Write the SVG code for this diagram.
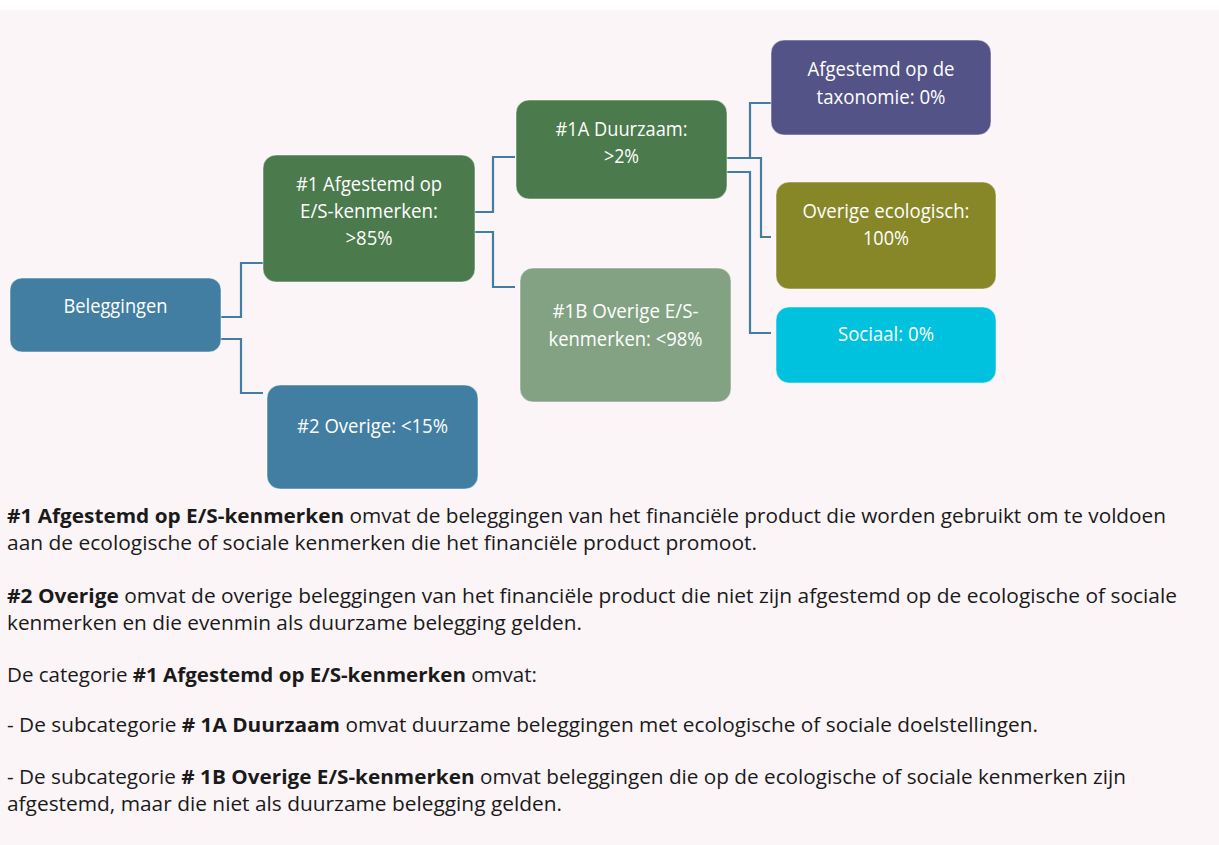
<svg xmlns="http://www.w3.org/2000/svg" width="1219" height="845" viewBox="0 0 1219 845">
<style>
.node rect{stroke:#ffffff;stroke-opacity:0.5;stroke-width:1}
.nt{font-family:"Open Sans","Noto Sans","Liberation Sans",sans-serif;font-size:20px;fill:#ffffff;text-anchor:middle}
.bt{font-family:"Open Sans","Noto Sans","Liberation Sans",sans-serif;font-size:20px;fill:#1a1a1a}
.b{font-weight:bold}
#connectors path{fill:none;stroke:#417ea1;stroke-width:2.2}
</style>
<rect x="0" y="0" width="1219" height="845" fill="#ffffff"/>
<rect x="0" y="10" width="1219" height="835" fill="#fbf5f8"/>

<g id="connectors">
  <path d="M221,317 H241 V263 H263"/>
  <path d="M221,339 H241 V393 H263"/>
  <path d="M475,212 H493 V157 H515"/>
  <path d="M475,232 H493 V287 H515"/>
  <path d="M727,158 H750 V103 H771"/>
  <path d="M727,158 H761 V237 H771"/>
  <path d="M727,172 H750 V333 H771"/>
</g>

<g id="beleggingen" class="node">
  <rect x="10" y="278" width="211" height="74" rx="12" fill="#417ea1"/>
  <text class="nt" x="115.5" y="313" textLength="104" lengthAdjust="spacingAndGlyphs">Beleggingen</text>
</g>
<g id="n1" class="node">
  <rect x="263" y="155" width="212" height="127" rx="13" fill="#4b7a4c"/>
  <text class="nt" x="369" y="191" textLength="146" lengthAdjust="spacingAndGlyphs">#1 Afgestemd op</text>
  <text class="nt" x="369" y="218" textLength="138" lengthAdjust="spacingAndGlyphs">E/S-kenmerken:</text>
  <text class="nt" x="369" y="245" textLength="47" lengthAdjust="spacingAndGlyphs">&gt;85%</text>
</g>
<g id="n2" class="node">
  <rect x="267" y="385" width="211" height="104" rx="13" fill="#417ea1"/>
  <text class="nt" x="372.5" y="433" textLength="151" lengthAdjust="spacingAndGlyphs">#2 Overige: &lt;15%</text>
</g>
<g id="n1a" class="node">
  <rect x="516" y="100" width="211" height="99" rx="13" fill="#4b7a4c"/>
  <text class="nt" x="621.5" y="136" textLength="132" lengthAdjust="spacingAndGlyphs">#1A Duurzaam:</text>
  <text class="nt" x="621.5" y="163" textLength="35" lengthAdjust="spacingAndGlyphs">&gt;2%</text>
</g>
<g id="n1b" class="node">
  <rect x="520" y="268" width="211" height="134" rx="13" fill="#82a283"/>
  <text class="nt" x="625.5" y="318" textLength="146" lengthAdjust="spacingAndGlyphs">#1B Overige E/S-</text>
  <text class="nt" x="625.5" y="346" textLength="154" lengthAdjust="spacingAndGlyphs">kenmerken: &lt;98%</text>
</g>
<g id="taxonomie" class="node">
  <rect x="771" y="40" width="220" height="95" rx="13" fill="#545388"/>
  <text class="nt" x="881" y="76" textLength="147" lengthAdjust="spacingAndGlyphs">Afgestemd op de</text>
  <text class="nt" x="881" y="104" textLength="129" lengthAdjust="spacingAndGlyphs">taxonomie: 0%</text>
</g>
<g id="overig-ecologisch" class="node">
  <rect x="776" y="182" width="220" height="107" rx="13" fill="#878728"/>
  <text class="nt" x="886" y="218" textLength="167" lengthAdjust="spacingAndGlyphs">Overige ecologisch:</text>
  <text class="nt" x="886" y="245" textLength="46" lengthAdjust="spacingAndGlyphs">100%</text>
</g>
<g id="sociaal" class="node">
  <rect x="776" y="307" width="220" height="76" rx="13" fill="#00c1de"/>
  <text class="nt" x="886" y="341" textLength="96" lengthAdjust="spacingAndGlyphs">Sociaal: 0%</text>
</g>

<g id="body-text">
  <text class="bt" x="7" y="523" textLength="1159" lengthAdjust="spacingAndGlyphs"><tspan class="b">#1 Afgestemd op E/S-kenmerken</tspan> omvat de beleggingen van het financiële product die worden gebruikt om te voldoen</text>
  <text class="bt" x="7" y="550" textLength="750" lengthAdjust="spacingAndGlyphs">aan de ecologische of sociale kenmerken die het financiële product promoot.</text>
  <text class="bt" x="7" y="603" textLength="1170" lengthAdjust="spacingAndGlyphs"><tspan class="b">#2 Overige</tspan> omvat de overige beleggingen van het financiële product die niet zijn afgestemd op de ecologische of sociale</text>
  <text class="bt" x="7" y="630" textLength="575" lengthAdjust="spacingAndGlyphs">kenmerken en die evenmin als duurzame belegging gelden.</text>
  <text class="bt" x="7" y="682" textLength="530" lengthAdjust="spacingAndGlyphs">De categorie <tspan class="b">#1 Afgestemd op E/S-kenmerken</tspan> omvat:</text>
  <text class="bt" x="7" y="732" textLength="1031" lengthAdjust="spacingAndGlyphs">- De subcategorie <tspan class="b"># 1A Duurzaam</tspan> omvat duurzame beleggingen met ecologische of sociale doelstellingen.</text>
  <text class="bt" x="7" y="784" textLength="1119" lengthAdjust="spacingAndGlyphs">- De subcategorie <tspan class="b"># 1B Overige E/S-kenmerken</tspan> omvat beleggingen die op de ecologische of sociale kenmerken zijn</text>
  <text class="bt" x="7" y="811" textLength="555" lengthAdjust="spacingAndGlyphs">afgestemd, maar die niet als duurzame belegging gelden.</text>
</g>
</svg>
